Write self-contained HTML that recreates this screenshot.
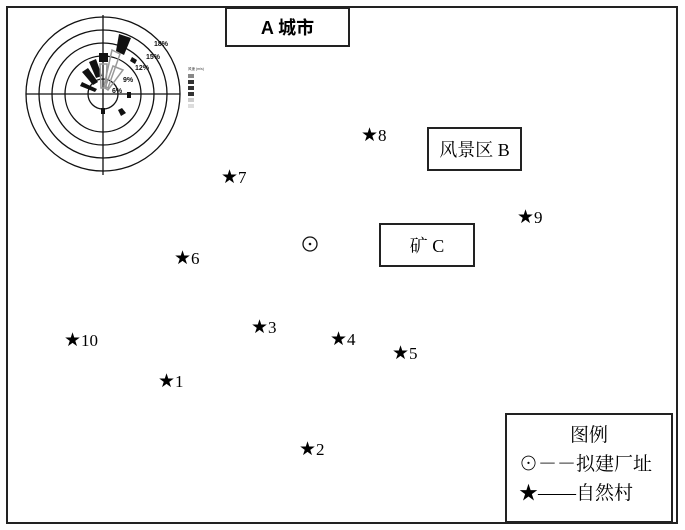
<!DOCTYPE html>
<html><head><meta charset="utf-8"><style>
body{margin:0;width:685px;height:530px;background:#fff;position:relative;overflow:hidden;font-family:"Liberation Serif","Noto Serif CJK SC",serif;}
.f{position:absolute;left:6px;top:6px;width:672px;height:518px;border:2px solid #222;box-sizing:border-box;}
.b{position:absolute;border:2px solid #222;box-sizing:border-box;display:flex;align-items:center;justify-content:center;font-size:18px;}
.s{position:absolute;font-size:19px;line-height:18px;white-space:nowrap;font-family:"DejaVu Sans","Liberation Serif",sans-serif;}
.s span{font-family:"Liberation Serif",serif;font-size:17px;}
</style></head><body>
<div class="f"></div>
<div class="b" style="left:225px;top:7px;width:125px;height:40px;font-family:'Liberation Sans','Noto Sans CJK SC',sans-serif;font-weight:bold;">A 城市</div>
<div class="b" style="left:427px;top:127px;width:95px;height:44px;">风景区 B</div>
<div class="b" style="left:379px;top:223px;width:96px;height:44px;">矿 C</div>
<div class="b" style="left:505px;top:413px;width:168px;height:110px;display:block;font-size:19px;line-height:29px;padding-top:6px;">
<div style="text-align:center">图例</div>
<div style="padding-left:12px">⊙－－拟建厂址</div>
<div style="padding-left:12px">★——自然村</div>
</div>
<svg style="position:absolute;left:0;top:0" width="685" height="530">
<g fill="none" stroke="#111" stroke-width="1.3">
<circle cx="103" cy="94" r="77"/><circle cx="103" cy="94" r="64"/><circle cx="103" cy="94" r="51"/><circle cx="103" cy="94" r="38"/><circle cx="103" cy="94" r="15"/>
<line x1="26" y1="94" x2="180" y2="94"/><line x1="103" y1="15" x2="103" y2="175"/>
</g>
<g fill="#111">
<polygon points="119,34 131,38 124,55 116,51"/>
<polygon points="99,53 108,53 108,62 99,62"/>
<polygon points="89,62 96,59 102,76 96,78"/>
<polygon points="82,72 88,68 98,82 93,85"/>
<polygon points="80,86 82,82 97,89 95,92"/>
<rect x="127" y="92" width="4" height="6"/>
<polygon points="118,110 122,108 126,113 121,116"/>
<rect x="101" y="108" width="4" height="6"/>
<polygon points="132,57 137,60 135,64 130,61"/>
</g>
<g fill="none" stroke="#999" stroke-width="1.5">
<polygon points="112,50 120,54 108,88 104,86"/>
<polygon points="100,64 107,64 106,88 101,88"/>
<polygon points="113,66 123,70 108,90 105,88"/>
</g>
<g font-family="Liberation Sans,sans-serif" font-size="7" font-weight="bold" fill="#111">
<text x="154" y="46">18%</text><text x="146" y="59">15%</text><text x="135" y="70">12%</text><text x="123" y="82">9%</text><text x="112" y="93">6%</text>
</g>
<g font-size="3.5" fill="#333" font-family="Liberation Sans,sans-serif">
<text x="188" y="70">风速 (m/s)</text>
<rect x="188" y="74" width="6" height="4" fill="#888"/><rect x="188" y="80" width="6" height="4"/><rect x="188" y="86" width="6" height="4"/><rect x="188" y="92" width="6" height="4"/><rect x="188" y="98" width="6" height="4" fill="#ccc"/><rect x="188" y="104" width="6" height="4" fill="#ddd"/>
</g>
<circle cx="310" cy="244" r="7" fill="none" stroke="#111" stroke-width="1.3"/><circle cx="310" cy="244" r="1.3" fill="#111"/>
</svg>
<div class="s" style="left:361px;top:126px">★<span>8</span></div>
<div class="s" style="left:221px;top:168px">★<span>7</span></div>
<div class="s" style="left:517px;top:208px">★<span>9</span></div>
<div class="s" style="left:174px;top:249px">★<span>6</span></div>
<div class="s" style="left:251px;top:318px">★<span>3</span></div>
<div class="s" style="left:330px;top:330px">★<span>4</span></div>
<div class="s" style="left:392px;top:344px">★<span>5</span></div>
<div class="s" style="left:64px;top:331px">★<span>10</span></div>
<div class="s" style="left:158px;top:372px">★<span>1</span></div>
<div class="s" style="left:299px;top:440px">★<span>2</span></div>
</body></html>
